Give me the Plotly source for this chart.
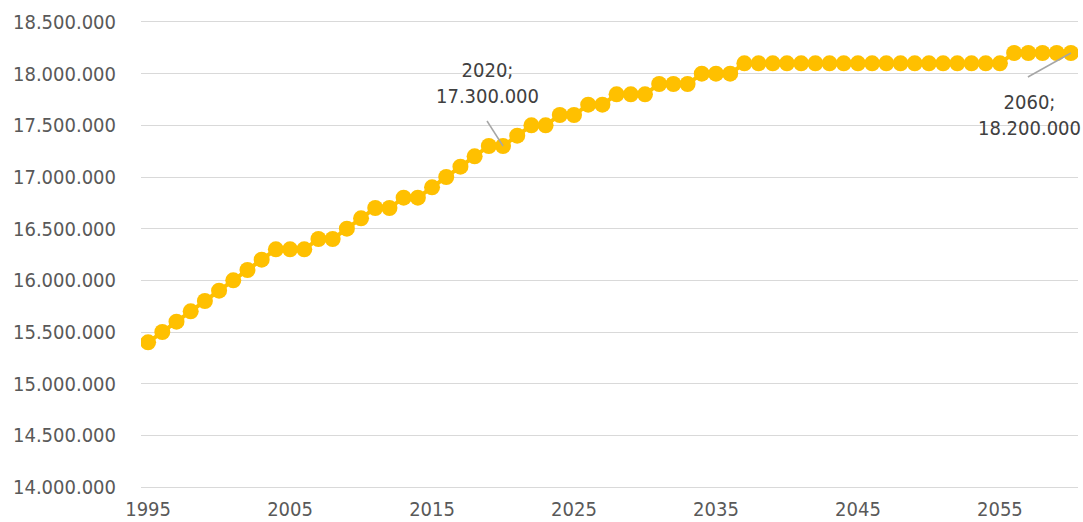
import plotly.graph_objects as go

years = list(range(1995, 2061))
population = [
    15400000, 15500000, 15600000, 15700000, 15800000, 15900000, 16000000, 16100000, 16200000, 16300000,  # 1995-2004
    16300000, 16300000, 16400000, 16400000, 16500000, 16600000, 16700000, 16700000, 16800000, 16800000,  # 2005-2014
    16900000, 17000000, 17100000, 17200000, 17300000, 17300000, 17400000, 17500000, 17500000, 17600000,  # 2015-2024
    17600000, 17700000, 17700000, 17800000, 17800000, 17800000, 17900000, 17900000, 17900000, 18000000,  # 2025-2034
    18000000, 18000000, 18100000, 18100000, 18100000, 18100000, 18100000, 18100000, 18100000, 18100000,  # 2035-2044
    18100000, 18100000, 18100000, 18100000, 18100000, 18100000, 18100000, 18100000, 18100000, 18100000,  # 2045-2054
    18100000, 18200000, 18200000, 18200000, 18200000, 18200000,  # 2055-2060
]
x_ticks = [1995, 2005, 2015, 2025, 2035, 2045, 2055]
y_ticks = [14000000 + 500000 * i for i in range(10)]
labelled_years = [2020, 2060]

FONT = "DejaVu Sans Condensed, DejaVu Sans, sans-serif"
GOLD = "#FFC000"

fig = go.Figure()
fig.add_trace(go.Scatter(
    x=years, y=population, mode="lines+markers",
    line=dict(color=GOLD, width=4),
    marker=dict(color=GOLD, size=16),
    hoverinfo="skip", showlegend=False,
))

def fmt(v):
    return f"{v:,}".replace(",", ".")

# label offsets (text centre relative to the point, in px) and leader-line starts
label_cfg = {
    2020: dict(xshift=-16, yshift=63, lx=-16, ly=25),
    2060: dict(xshift=-41, yshift=-62, lx=-43, ly=-24),
}
for yr in labelled_years:
    val = population[years.index(yr)]
    c = label_cfg[yr]
    fig.add_annotation(
        x=yr, y=val, xref="x", yref="y",
        text=f"{yr};<br>{fmt(val)}", showarrow=False,
        xshift=c["xshift"], yshift=c["yshift"],
        font=dict(family=FONT, size=20, color="#404040"),
        align="center",
    )
    fig.add_shape(
        type="line", xref="x", yref="y",
        xsizemode="pixel", ysizemode="pixel",
        xanchor=yr, yanchor=val,
        x0=c["lx"], y0=c["ly"], x1=0, y1=0,
        line=dict(color="#A6A6A6", width=1.5),
    )

fig.update_layout(
    width=1083, height=522,
    margin=dict(l=141, r=5, t=22, b=35),
    paper_bgcolor="white", plot_bgcolor="white",
    separators=",.",
    font=dict(family=FONT, size=20, color="#595959"),
)
fig.update_xaxes(
    range=[1994.5, 2060.5], tickvals=x_ticks, ticktext=[str(t) for t in x_ticks],
    showgrid=False, zeroline=False,
    showline=True, mirror=True, linecolor="#D9D9D9", linewidth=1.3,
    ticks="", ticklabelstandoff=4, automargin=False,
    tickfont=dict(family=FONT, size=20, color="#595959"),
)
fig.update_yaxes(
    range=[14000000, 18500000], tickvals=y_ticks, ticktext=[fmt(v) for v in y_ticks],
    showgrid=True, gridcolor="#D9D9D9", gridwidth=1.3,
    zeroline=False, showline=False, ticks="", ticklabelstandoff=24, automargin=False,
    tickfont=dict(family=FONT, size=20, color="#595959"),
)

fig.write_html(
    "out.html",
    config={"displayModeBar": False},
    post_script="document.body.style.margin='0';document.body.style.overflow='hidden';",
)
